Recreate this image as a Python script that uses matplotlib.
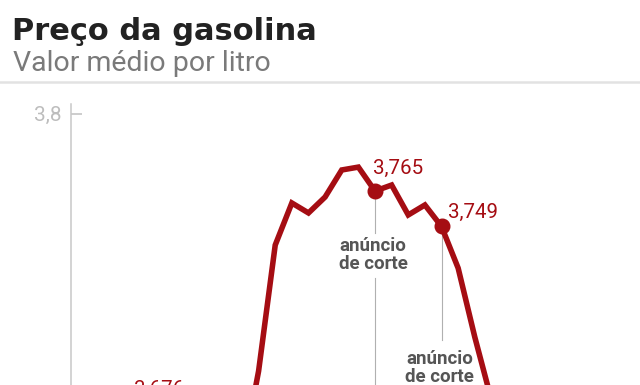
import matplotlib
matplotlib.use("Agg")
import matplotlib.pyplot as plt
from matplotlib import font_manager

# ---- data ----
week_idx = [5, 10, 11, 12, 13, 14, 15, 16, 17, 18, 19, 20, 21, 22, 23, 24, 25]
price = [3.676, 3.644, 3.6837, 3.7406, 3.7596, 3.7551, 3.7623, 3.7745, 3.7758,
         3.765, 3.7677, 3.7542, 3.7587, 3.749, 3.7302, 3.6991, 3.6707]
labeled_idx = [5, 18, 22]
labeled_txt = ["3,676", "3,765", "3,749"]
cut_idx = [18, 22]
cut_label = "anúncio\nde corte"
ytick_vals = [3.8]
ytick_txt = ["3,8"]
title = "Preço da gasolina"
subtitle = "Valor médio por litro"

W, H = 640, 385
DPI = 100
fig = plt.figure(figsize=(W / DPI, H / DPI), dpi=DPI)
fig.patch.set_facecolor("white")

def avail(name):
    try:
        font_manager.findfont(font_manager.FontProperties(family=name), fallback_to_default=False)
        return True
    except Exception:
        return False

narrow = "Liberation Sans Narrow" if avail("Liberation Sans Narrow") else "Roboto"

RED = "#a50d13"

# axes: spine at x=71px, top at y=104px, extends below figure
ax_left_px, ax_top_px, ax_bot_px = 71, 104, 500
ax = fig.add_axes([ax_left_px / W, 1 - ax_bot_px / H, 1 - ax_left_px / W, (ax_bot_px - ax_top_px) / H])
scale = 2215.0  # px per unit
y38_px = 113.5
ax.set_ylim(3.8 - (ax_bot_px - y38_px) / scale, 3.8 + (y38_px - ax_top_px) / scale)
xstep = 16.63
x0_px = 375 - 18 * xstep
ax.set_xlim((ax_left_px - x0_px) / xstep, (W - x0_px) / xstep)

for s in ["top", "right", "bottom"]:
    ax.spines[s].set_visible(False)
ax.spines["left"].set_color("#c8c8c8")
ax.spines["left"].set_linewidth(1.1)
ax.set_xticks([])
ax.set_yticks(ytick_vals)
ax.set_yticklabels(ytick_txt)
ax.tick_params(axis="y", direction="in", length=8, width=1.1, color="#c0c0c0",
               pad=6.5, labelsize=15, labelcolor="#bdbdbd")
for t in ax.get_yticklabels():
    t.set_fontfamily("Roboto")
ax.set_facecolor("none")

# main line
ax.plot(week_idx, price, color=RED, lw=4.0, solid_joinstyle="miter", zorder=3, clip_on=False)

# dots
for i in cut_idx:
    v = price[week_idx.index(i)]
    ax.plot([i], [v], "o", ms=10.5, color=RED, zorder=4)

def px2v(py):
    return 3.8 - (py - y38_px) / scale

# vertical annotation lines + labels
cut_cfg = {18: dict(gap=(233, 278), label_y=255), 22: dict(gap=(340, 394), label_y=368)}
for i in cut_idx:
    v = price[week_idx.index(i)]
    g0, g1 = cut_cfg[i]["gap"]
    ax.plot([i, i], [v, px2v(g0)], color="#b0b0b0", lw=0.8, zorder=1)
    ax.plot([i, i], [px2v(g1), px2v(600)], color="#b0b0b0", lw=0.8, zorder=1, clip_on=True)
    ax.text(i - 0.12, px2v(cut_cfg[i]["label_y"]), cut_label, ha="center", va="center",
            fontsize=13.5, fontweight="bold", color="#555555", family=narrow,
            linespacing=0.95, zorder=5)

# value labels
lab_off = {5: (0, 8, "center", "top"), 18: (-2, 17, "left", "baseline"), 22: (6.5, 8.5, "left", "baseline")}
for i, txt in zip(labeled_idx, labeled_txt):
    v = price[week_idx.index(i)]
    dx, dy, ha, va = lab_off[i]
    ax.annotate(txt, (i, v), xytext=(dx, dy), textcoords="offset pixels",
                ha=ha, va=va, fontsize=14.8, color=RED, family="Roboto", zorder=5,
                annotation_clip=False)

# titles
fig.text(12 / W, 1 - 40.5 / H, title, fontsize=22, fontweight="bold", color="#222222",
         family="DejaVu Sans", va="baseline", ha="left")
fig.text(13 / W, 1 - 71 / H, subtitle, fontsize=20.5, color="#7a7a7a",
         family=narrow, va="baseline", ha="left")
# separator rule
fig.add_artist(plt.Line2D([0, 1], [1 - 82 / H, 1 - 82 / H], transform=fig.transFigure,
                          color="#e2e2e2", lw=1.8))

fig.savefig("out.png", dpi=DPI)
